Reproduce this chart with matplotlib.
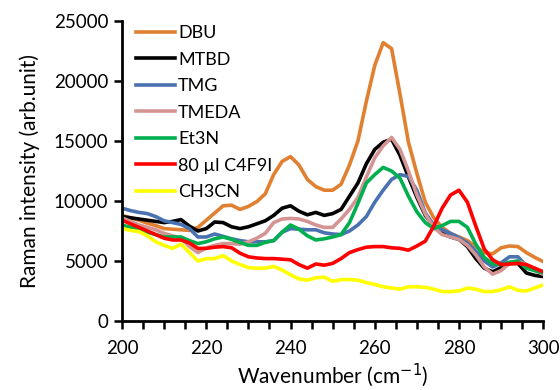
import numpy as np
import matplotlib
matplotlib.use('Agg')
import matplotlib.pyplot as plt
from matplotlib.ticker import MultipleLocator

plt.rcParams['font.family'] = ['Lato', 'DejaVu Sans']

wavenumber = np.arange(200, 301, 2)

dbu = [8800, 8600, 8400, 8150, 7950, 7700, 7650, 7600, 7550, 7800,
       8400, 9000, 9600, 9650, 9300, 9550, 9950, 10600, 12200, 13300,
       13700, 13000, 11800, 11200, 10900, 10900, 11400, 13000, 15000, 18300,
       21300, 23200, 22700, 18900, 14900, 12300, 9900, 8600, 7800, 7300,
       7000, 6700, 6200, 5700, 5600, 6100, 6250, 6200, 5700, 5300, 4950]
mtbd = [8700, 8600, 8500, 8400, 8300, 8200, 8300, 8450, 7900, 7500,
        7700, 8250, 8200, 7850, 7700, 7850, 8100, 8350, 8800, 9400,
        9600, 9150, 8850, 9050, 8800, 8950, 9300, 10400, 11500, 13100,
        14300, 14900, 15150, 13800, 12000, 10300, 8800, 7900, 7300, 7000,
        6800, 6200, 5200, 4400, 4100, 4450, 4800, 4800, 4000, 3800, 3700]
tmg = [9400, 9200, 9050, 8950, 8700, 8350, 8200, 8050, 7700, 7000,
       7000, 7250, 7050, 6850, 6700, 6600, 6600, 6600, 6700, 7400,
       7700, 7650, 7600, 7600, 7350, 7250, 7200, 7500, 8000, 8700,
       9900, 10900, 11800, 12200, 12050, 10900, 9000, 8000, 7600, 7300,
       6950, 6500, 5800, 5000, 4500, 4850, 5350, 5350, 4600, 4300, 4100]
tmeda = [8600, 8300, 8000, 7800, 7600, 7300, 7100, 6900, 6200, 5700,
         6100, 6300, 6450, 6450, 6400, 6600, 6900, 7300, 8200, 8500,
         8550, 8500, 8300, 8000, 7800, 7800, 8500, 9300, 10300, 12000,
         13600, 14600, 15300, 14300, 12500, 10500, 8900, 7800, 7200, 7000,
         6800, 6300, 5500, 4500, 3900, 4200, 4800, 5000, 4700, 4200, 3900]
et3n = [8000, 7800, 7650, 7400, 7200, 7000, 7000, 7000, 6700, 6450,
        6600, 6850, 7000, 6800, 6550, 6300, 6300, 6550, 6700, 7400,
        8000, 7650, 7100, 6750, 6850, 7000, 7200, 8200, 9800, 11500,
        12200, 12800, 12500, 11900, 10400, 9100, 8200, 7700, 7950, 8300,
        8300, 7800, 6400, 5300, 4750, 4700, 4900, 5000, 4400, 4200, 4000]
c4f9i = [8400, 8100, 7800, 7500, 7200, 6900, 6750, 6750, 6500, 6050,
         6050, 6150, 6200, 6100, 5650, 5350, 5250, 5200, 5200, 5150,
         5100, 4700, 4400, 4750, 4650, 4800, 5200, 5700, 5950, 6150,
         6200, 6200, 6100, 6050, 5900, 6250, 6650, 7900, 9400, 10500,
         10900, 9900, 7900, 6000, 5100, 4700, 4750, 4800, 4700, 4400, 4100]
ch3cn = [7700, 7550, 7450, 7100, 6600, 6300, 6050, 6400, 5700, 5000,
         5200, 5200, 5450, 5000, 4700, 4450, 4400, 4400, 4550, 4250,
         3850, 3500, 3400, 3600, 3650, 3300, 3450, 3450, 3400, 3200,
         3050, 2850, 2750, 2650, 2850, 2850, 2800, 2650, 2450, 2450,
         2500, 2750, 2650, 2450, 2450, 2600, 2850, 2550, 2500, 2750, 3000]

labels = ['DBU', 'MTBD', 'TMG', 'TMEDA', 'Et3N', '80 \u00b5l C4F9I', 'CH3CN']
colors = ['#E08030', '#000000', '#4A72B0', '#D49494', '#00B050', '#FF0000', '#FFFF00']
series = [dbu, mtbd, tmg, tmeda, et3n, c4f9i, ch3cn]

fig = plt.figure(figsize=(5.6, 3.9), dpi=100)
ax = fig.add_axes([0.218, 0.177, 0.752, 0.769])

for y, c, lab in zip(series, colors, labels):
    ax.plot(wavenumber, y, color=c, lw=2.6, label=lab, solid_joinstyle='round')

ax.set_xlim(200, 300)
ax.set_ylim(0, 25000)
ax.xaxis.set_major_locator(MultipleLocator(20))
ax.xaxis.set_minor_locator(MultipleLocator(5))
ax.yaxis.set_major_locator(MultipleLocator(5000))

for s in ['top', 'right']:
    ax.spines[s].set_visible(False)
for s in ['left', 'bottom']:
    ax.spines[s].set_linewidth(2)

ax.tick_params(axis='both', which='both', direction='out', length=6, width=1.8, labelsize=13.5)
ax.tick_params(axis='x', pad=8)
ax.tick_params(axis='y', pad=4)

ax.set_xlabel('Wavenumber (cm$^{-1}$)', fontsize=15, labelpad=3)
ax.set_ylabel('Raman intensity (arb.unit)', fontsize=15, labelpad=10)

ax.legend(loc='upper left', bbox_to_anchor=(0.015, 1.01), frameon=False, fontsize=13,
          handlelength=2.2, handletextpad=0.15, labelspacing=0.58, borderaxespad=0.0)

fig.savefig('out.png', dpi=100)
